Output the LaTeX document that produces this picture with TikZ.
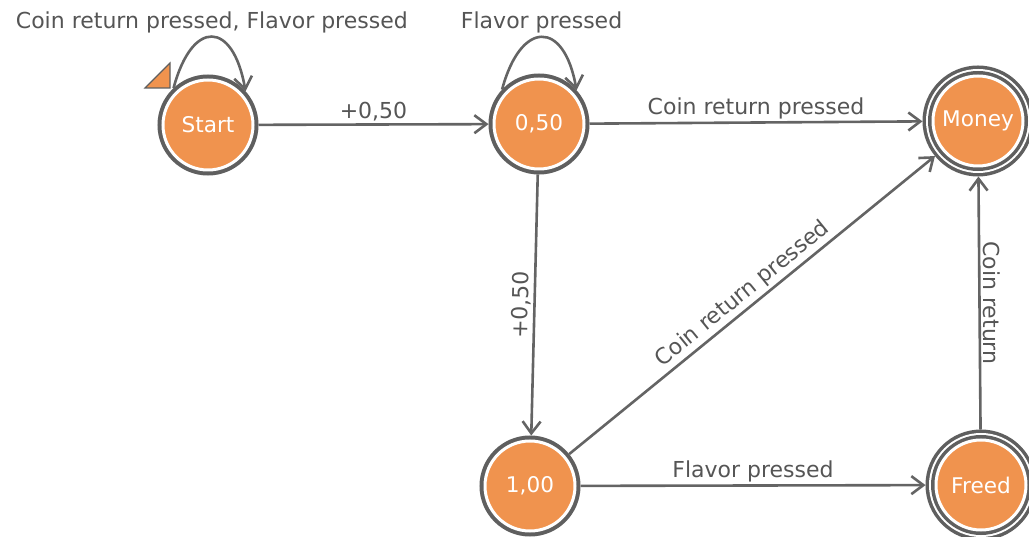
\documentclass[tikz,border=0pt]{standalone}
\usepackage{fontspec}
\setmainfont{DejaVu Sans}
\usetikzlibrary{arrows.meta}
\definecolor{stateorange}{RGB}{240,147,78}
\definecolor{ringgray}{RGB}{95,95,95}
\definecolor{edgegray}{RGB}{100,100,100}
\definecolor{labelgray}{RGB}{85,85,85}
\tikzset{
  statebase/.style={circle, minimum size=45pt, inner sep=0pt, fill=stateorange,
    draw=white, line width=1.5pt, text=white, font=\fontsize{10.8}{12}\selectfont},
  state/.style={preaction={draw=ringgray, line width=5.5pt}, statebase, outer sep=2.75pt},
  accept/.style={preaction={draw=ringgray, line width=10.5pt},
    preaction={draw=white, line width=7pt},
    preaction={draw=ringgray, line width=5pt}, statebase, outer sep=5.25pt},
  trans/.style={draw=edgegray, line width=1.3pt, -{Straight Barb[length=6pt,width=9pt]}},
  lbl/.style={text=labelgray, inner sep=1.2pt, font=\fontsize{11}{13}\selectfont},
  lblup/.style={above},
  lblslope/.style={sloped, above},
  lbldown/.style={rotate=-90, anchor=south}
}
\begin{document}
\begin{tikzpicture}[x=0.5pt, y=0.5pt]
  \useasboundingbox (0,0) rectangle (1029,536);
  \def \Nodes{
    start/208/411/Start/state,
    half/539/412/{0,50}/state,
    money/978/415/Money/accept,
    one/530/50/{1,00}/state,
    freed/981/51/Freed/accept}
  \def \Edges{
    start/half/{+0,50}/lblup,
    half/money/{Coin return pressed}/lblup,
    half/one/{+0,50}/lblslope,
    one/money/{Coin return pressed}/lblslope,
    one/freed/{Flavor pressed}/lblup,
    freed/money/{Coin return}/lbldown}
  \foreach \id / \x / \y / \lb / \kind in \Nodes{
    \node[\kind] (\id) at (\x, \y) {\lb};
  }
  \foreach \a / \b / \lb / \where in \Edges{
    \path[trans] (\a) -- (\b) node[lbl, midway, \where] {\lb};
  }
  % self loops
  \path[trans] (start.133) .. controls +(75:72) and +(100:72) .. (start.42)
    node[lbl, midway, above] {Coin return pressed, Flavor pressed};
  \path[trans] (half.137) .. controls +(75:72) and +(100:72) .. (half.42)
    node[lbl, midway, above] {Flavor pressed};
  % initial marker
  \filldraw[fill=stateorange, draw=ringgray, line width=0.6pt]
    ([shift={(-63,37)}]start.center) -- ++(25,25) -- ++(0,-25) -- cycle;
\end{tikzpicture}
\end{document}
